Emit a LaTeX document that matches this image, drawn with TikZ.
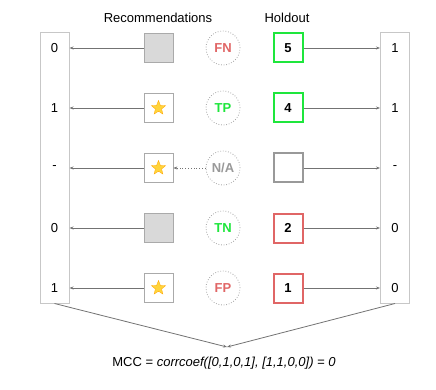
\documentclass[tikz,border=0pt]{standalone}
\usepackage{xcolor}
\usepackage{fontspec}
\setmainfont{Liberation Sans}
\usepackage{tikz}
\usetikzlibrary{shapes.geometric, arrows.meta, positioning}

\definecolor{hitgreen}{HTML}{1EE63C}
\definecolor{missred}{HTML}{E06666}
\definecolor{naggray}{HTML}{999999}
\definecolor{boxfill}{HTML}{D9D9D9}
\definecolor{boxline}{HTML}{AAAAAA}
\definecolor{staryel}{HTML}{FFD43B}

\begin{document}
\begin{tikzpicture}[x=1pt, y=1pt]

\tikzset{
  col/.style      = {rectangle, minimum width=29pt, minimum height=270pt,
                     draw=black!22, line width=1pt, fill=white},
  val/.style      = {font=\fontsize{13}{15}\selectfont, text=black},
  recbox/.style   = {rectangle, minimum size=29pt, draw=boxline, line width=0.8pt},
  empty/.style    = {recbox, fill=boxfill},
  starred/.style  = {recbox, fill=white},
  staricon/.style = {star, star points=5, star point ratio=2.3, minimum size=15pt,
                     inner sep=0pt, fill=staryel, draw=orange!70!yellow, line width=0.3pt},
  verdict/.style  = {circle, minimum size=34pt, draw=black!35, line width=0.8pt,
                     dash pattern=on 0.8pt off 1.8pt,
                     font=\fontsize{13}{15}\selectfont\bfseries},
  hold/.style     = {rectangle, minimum size=29pt, line width=2pt, fill=white,
                     font=\fontsize{13}{15}\selectfont\bfseries},
  arr/.style      = {-{Stealth[length=4pt,width=3pt]}, line width=0.8pt, black!55},
  darr/.style     = {arr, dotted},
  collbl/.style   = {font=\fontsize{13}{15}\selectfont, text=black}
}

\useasboundingbox (0,0) rectangle (436,-390);

%% -- Column labels -------------------------------------------------
\node[collbl] (reclbl)  at (158, -18) {Recommendations};
\node[collbl] (holdlbl) at (287, -18) {Holdout};

%% -- Outer columns -------------------------------------------------
\node[col] (predcol) at (54.5, -168) {};
\node[col] (truecol) at (395, -168) {};

%% -- Predicted values ----------------------------------------------
\node[val] (p1) at (54.5, -48)  {0};
\node[val] (p2) at (54.5, -108) {1};
\node[val] (p3) at (54.5, -168) {-};
\node[val] (p4) at (54.5, -228) {0};
\node[val] (p5) at (54.5, -288) {1};

%% -- Actual values -------------------------------------------------
\node[val] (t1) at (395, -48)  {1};
\node[val] (t2) at (395, -108) {1};
\node[val] (t3) at (395, -168) {-};
\node[val] (t4) at (395, -228) {0};
\node[val] (t5) at (395, -288) {0};

%% -- Recommendations -----------------------------------------------
\node[empty]   (rec1) at (158.5, -48)  {};
\node[starred] (rec2) at (158.5, -108) {};
\node[starred] (rec3) at (158.5, -168) {};
\node[empty]   (rec4) at (158.5, -228) {};
\node[starred] (rec5) at (158.5, -288) {};
\node[staricon] (star2) at (rec2) {};
\node[staricon] (star3) at (rec3) {};
\node[staricon] (star5) at (rec5) {};

%% -- Verdicts ------------------------------------------------------
\node[verdict, text=missred]   (fn) at (223, -48)  {FN};
\node[verdict, text=hitgreen]  (tp) at (223, -108) {TP};
\node[verdict, text=naggray]   (na) at (223, -168) {N/A};
\node[verdict, text=hitgreen]  (tn) at (223, -228) {TN};
\node[verdict, text=missred]   (fp) at (223, -288) {FP};

%% -- Holdout -------------------------------------------------------
\node[hold, draw=hitgreen] (h1) at (288, -48)  {5};
\node[hold, draw=hitgreen] (h2) at (288, -108) {4};
\node[hold, draw=naggray]  (h3) at (288, -168) {};
\node[hold, draw=missred]  (h4) at (288, -228) {2};
\node[hold, draw=missred]  (h5) at (288, -288) {1};

%% -- Arrows: recommendations to predictions ------------------------
\foreach \i in {1,...,5}
  \draw[arr] (rec\i.west) -- (rec\i.west -| predcol.east);

%% -- Arrows: holdout to actual values ------------------------------
\foreach \i in {1,...,5}
  \draw[arr] (h\i.east) -- (h\i.east -| truecol.west);

\draw[darr] (na.west) -- (rec3.east);

%% -- Result --------------------------------------------------------
\coordinate (meet) at (227, -347);
\draw[arr] (predcol.south) -- (meet);
\draw[arr] (truecol.south) -- (meet);

\node[collbl] (mcc) at (224, -363)
  {MCC = \textit{corrcoef([0,1,0,1], [1,1,0,0]) = 0}};

\end{tikzpicture}
\end{document}
